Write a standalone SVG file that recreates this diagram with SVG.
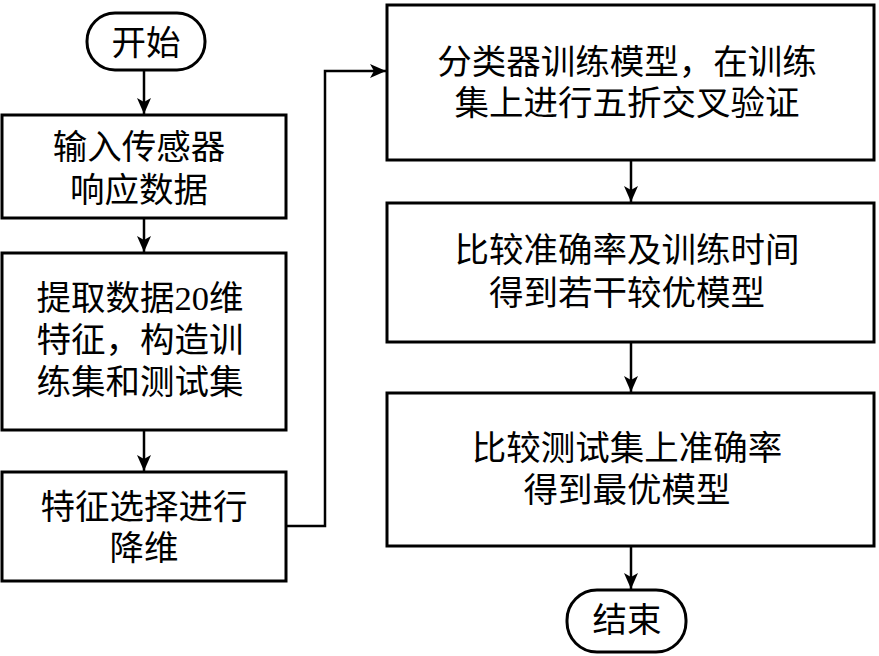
<svg xmlns="http://www.w3.org/2000/svg" width="879" height="656" viewBox="0 0 879 656">
<style>
.box{fill:#fff;stroke:#000;stroke-width:3}
.t{font-family:"Liberation Serif","Noto Sans CJK SC",serif;font-size:34.5px;fill:#000;text-anchor:middle}
.c{fill:none;stroke:#000;stroke-width:2.5}
</style>
<defs>
<marker id="ah" markerUnits="userSpaceOnUse" markerWidth="18" markerHeight="14" refX="16" refY="7" orient="auto">
<path d="M0,0 L16,7 L0,14 L4,7 Z" fill="#000"/>
</marker>
</defs>
<rect width="879" height="656" fill="#fff"/>
<g id="connectors">
<line class="c" x1="144" y1="70" x2="144" y2="114" marker-end="url(#ah)"/>
<line class="c" x1="144" y1="218" x2="144" y2="252" marker-end="url(#ah)"/>
<line class="c" x1="144" y1="430" x2="144" y2="471" marker-end="url(#ah)"/>
<polyline class="c" points="286,526 325,526 325,71 386,71" marker-end="url(#ah)"/>
<line class="c" x1="631" y1="160" x2="631" y2="202" marker-end="url(#ah)"/>
<line class="c" x1="631" y1="342" x2="631" y2="392" marker-end="url(#ah)"/>
<line class="c" x1="631" y1="546" x2="631" y2="589" marker-end="url(#ah)"/>
</g>
<g id="start">
<rect class="box" x="87" y="13" width="118" height="57" rx="28" ry="28"/>
<text class="t" x="146" y="55">开始</text>
</g>
<g id="input">
<rect class="box" x="2" y="115" width="284" height="103"/>
<text class="t" x="139" y="159">输入传感器</text>
<text class="t" x="139" y="202">响应数据</text>
</g>
<g id="extract">
<rect class="box" x="2" y="253" width="284" height="177"/>
<text class="t" x="140" y="310">提取数据20维</text>
<text class="t" x="140" y="352">特征，构造训</text>
<text class="t" x="140" y="394">练集和测试集</text>
</g>
<g id="select">
<rect class="box" x="2" y="472" width="284" height="109"/>
<text class="t" x="144" y="519">特征选择进行</text>
<text class="t" x="144" y="560">降维</text>
</g>
<g id="train">
<rect class="box" x="387" y="5" width="487" height="155"/>
<text class="t" x="627" y="74">分类器训练模型，在训练</text>
<text class="t" x="627" y="115">集上进行五折交叉验证</text>
</g>
<g id="compare1">
<rect class="box" x="387" y="203" width="487" height="139"/>
<text class="t" x="627" y="262">比较准确率及训练时间</text>
<text class="t" x="627" y="305">得到若干较优模型</text>
</g>
<g id="compare2">
<rect class="box" x="387" y="393" width="487" height="153"/>
<text class="t" x="627" y="460">比较测试集上准确率</text>
<text class="t" x="627" y="502">得到最优模型</text>
</g>
<g id="end">
<rect class="box" x="567" y="590" width="119" height="62" rx="30" ry="30"/>
<text class="t" x="627" y="632">结束</text>
</g>
</svg>
